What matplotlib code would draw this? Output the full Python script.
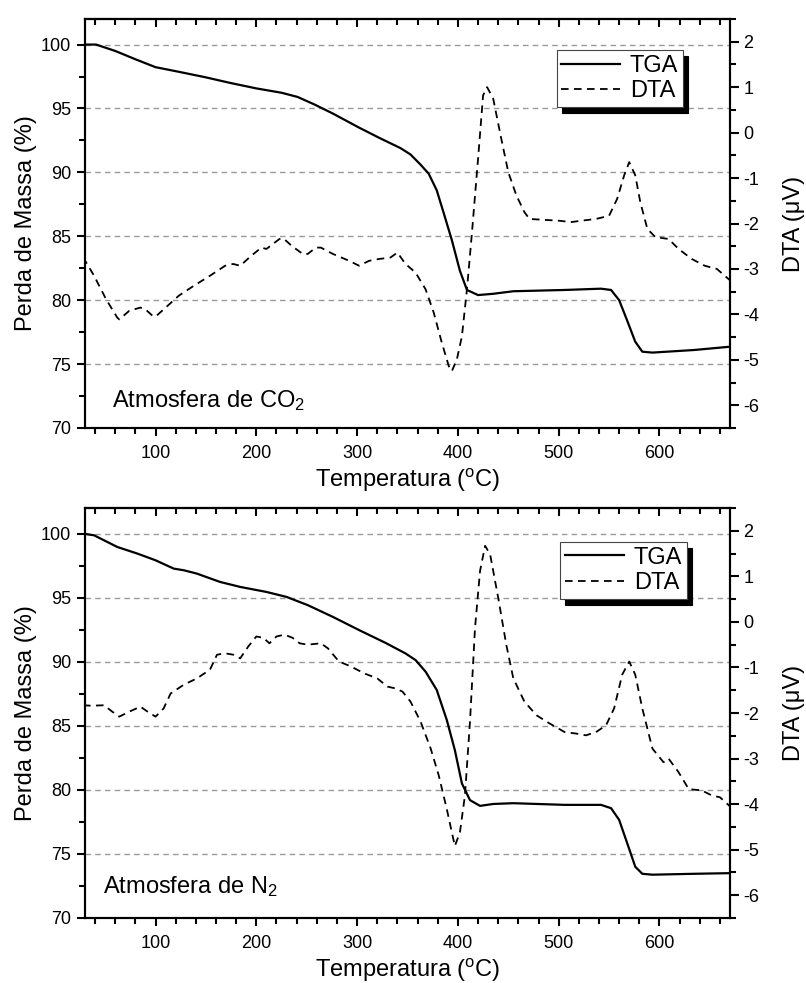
import matplotlib
matplotlib.use("Agg")
import matplotlib.pyplot as plt
from matplotlib.ticker import MultipleLocator

plt.rcParams['font.family'] = ['Liberation Sans', 'DejaVu Sans']
plt.rcParams['mathtext.fontset'] = 'custom'
plt.rcParams['mathtext.rm'] = 'Liberation Sans'
plt.rcParams['mathtext.it'] = 'Liberation Sans:italic'
plt.rcParams['axes.unicode_minus'] = False

# ---------------- data ----------------
# CO2 atmosphere
tga_co2_T = [28, 41, 60, 80, 100, 123, 149, 174, 200, 225, 241, 258, 276, 302, 322, 343,
             353, 363, 371, 379, 386, 394, 402, 409, 420, 435, 455, 506, 542, 552, 560,
             568, 576, 583, 593, 634, 670]
tga_co2 = [100.0, 100.0, 99.5, 98.85, 98.23, 97.87, 97.45, 97.0, 96.57, 96.23, 95.9, 95.3,
           94.6, 93.5, 92.7, 91.9, 91.4, 90.6, 89.9, 88.6, 86.8, 84.7, 82.3, 80.8, 80.4,
           80.5, 80.7, 80.8, 80.9, 80.8, 80.0, 78.4, 76.75, 75.97, 75.9, 76.1, 76.36]

dta_co2_T = [28, 39, 51, 62, 64, 74, 85, 90, 97, 100, 110, 123, 138, 154, 169, 177, 184,
             195, 205, 210, 223, 227, 235, 246, 251, 259, 264, 276, 292, 302, 312, 322,
             333, 340, 348, 358, 368, 376, 384, 391, 394, 399, 404, 409, 414, 420, 425,
             429, 435, 443, 450, 458, 466, 471, 486, 501, 512, 522, 537, 550, 558, 565,
             570, 576, 581, 588, 596, 609, 619, 632, 645, 657, 670]
dta_co2 = [-2.74, -3.15, -3.67, -4.07, -4.11, -3.92, -3.85, -3.89, -4.03, -4.05, -3.85,
           -3.59, -3.37, -3.15, -2.93, -2.89, -2.93, -2.71, -2.53, -2.56, -2.34, -2.33,
           -2.49, -2.67, -2.67, -2.53, -2.53, -2.67, -2.82, -2.93, -2.82, -2.78, -2.75,
           -2.64, -2.89, -3.08, -3.45, -3.96, -4.62, -5.14, -5.25, -4.99, -4.48, -3.45,
           -2.19, -0.58, 0.82, 1.0, 0.75, -0.13, -0.87, -1.38, -1.75, -1.9, -1.92, -1.94,
           -1.97, -1.94, -1.9, -1.83, -1.46, -0.94, -0.65, -0.94, -1.53, -2.12, -2.30,
           -2.34, -2.56, -2.78, -2.93, -3.0, -3.25]

# N2 atmosphere
tga_n2_T = [28, 39, 62, 82, 100, 118, 128, 141, 164, 184, 210, 230, 251, 276, 302, 328,
            348, 358, 368, 379, 389, 397, 404, 412, 422, 435, 455, 506, 542, 552, 560,
            568, 576, 583, 593, 634, 670]
tga_n2 = [100.0, 99.87, 98.96, 98.44, 97.92, 97.27, 97.14, 96.88, 96.23, 95.84, 95.45,
          95.06, 94.42, 93.5, 92.47, 91.48, 90.65, 90.13, 89.22, 87.8, 85.45, 83.1, 80.5,
          79.2, 78.75, 78.9, 78.96, 78.83, 78.83, 78.57, 77.66, 75.84, 74.0, 73.45, 73.38,
          73.45, 73.5]

dta_n2_T = [28, 36, 49, 57, 64, 74, 85, 92, 100, 108, 115, 128, 141, 154, 161, 169, 177,
            184, 192, 200, 207, 213, 220, 228, 236, 243, 251, 264, 271, 282, 294, 307,
            320, 330, 338, 345, 353, 363, 373, 381, 389, 394, 397, 402, 407, 412, 417,
            422, 427, 432, 440, 448, 455, 466, 478, 491, 506, 517, 527, 537, 547, 555,
            563, 570, 576, 583, 593, 604, 609, 619, 629, 642, 652, 660, 670]
dta_n2 = [-1.83, -1.84, -1.83, -1.97, -2.08, -1.97, -1.86, -1.97, -2.08, -1.9, -1.57,
          -1.38, -1.24, -1.05, -0.72, -0.69, -0.72, -0.8, -0.54, -0.32, -0.35, -0.47,
          -0.32, -0.28, -0.35, -0.47, -0.5, -0.47, -0.58, -0.87, -0.98, -1.13, -1.24,
          -1.42, -1.46, -1.53, -1.75, -2.19, -2.78, -3.37, -4.11, -4.62, -4.92, -4.62,
          -3.81, -2.19, -0.13, 1.12, 1.67, 1.48, 0.53, -0.5, -1.24, -1.75, -2.05, -2.23,
          -2.42, -2.45, -2.49, -2.42, -2.27, -1.9, -1.16, -0.87, -1.16, -1.9, -2.78,
          -3.08, -3.0, -3.30, -3.67, -3.70, -3.81, -3.85, -4.05]

panels = [
    ("Atmosfera de CO$_\\mathregular{2}$", tga_co2_T, tga_co2, dta_co2_T, dta_co2),
    ("Atmosfera de N$_\\mathregular{2}$", tga_n2_T, tga_n2, dta_n2_T, dta_n2),
]

# ---------------- layout ----------------
W, H = 806, 983
fig = plt.figure(figsize=(W / 100, H / 100), dpi=100)

rects = [(85, 19, 730, 428), (85, 508, 730, 918)]
legend_anchor = [(0.927, 0.924), (0.933, 0.917)]
text_pos = [(0.042, 0.051), (0.028, 0.060)]

lw_spine = 1.5
for i, (title, tT, tV, dT, dV) in enumerate(panels):
    x0, y0, x1, y1 = rects[i]
    h = y1 - y0
    ax = fig.add_axes([x0 / W, 1 - y1 / H, (x1 - x0) / W, h / H])
    ax2 = ax.twinx()

    l1, = ax.plot(tT, tV, color='black', lw=1.6, solid_joinstyle='round', label='TGA')
    l2, = ax2.plot(dT, dV, color='black', lw=1.3, linestyle=(0, (4.2, 3.0)), label='DTA')

    ax.set_xlim(30, 670)
    ax.set_ylim(70, 102)
    ax2.set_ylim(-6.5, 2.5)

    ax.xaxis.set_major_locator(MultipleLocator(100))
    ax.xaxis.set_minor_locator(MultipleLocator(20))
    ax.yaxis.set_major_locator(MultipleLocator(5))
    ax.yaxis.set_minor_locator(MultipleLocator(2.5))
    ax2.yaxis.set_major_locator(MultipleLocator(1))
    ax2.yaxis.set_minor_locator(MultipleLocator(0.5))

    ax.set_axisbelow(True)
    ax.yaxis.grid(True, which='major', linestyle=(0, (4, 3)), color='#9a9a9a', lw=1.0)

    for a in (ax, ax2):
        for s in a.spines.values():
            s.set_linewidth(lw_spine)

    ax.tick_params(axis='x', which='both', direction='out', top=False, bottom=True,
                   width=1.5, labelsize=13, pad=6)
    ax.tick_params(axis='x', which='major', length=6)
    ax.tick_params(axis='x', which='minor', length=4.5)
    ax.tick_params(axis='y', which='both', direction='out', left=True, right=False,
                   width=1.5, labelsize=13, pad=4)
    ax.tick_params(axis='y', which='major', length=6)
    ax.tick_params(axis='y', which='minor', length=4.5)
    ax2.tick_params(axis='y', which='both', direction='out', right=True, left=False,
                    width=1.5, labelsize=13, pad=3)
    ax2.tick_params(axis='y', which='major', length=6.5)
    ax2.tick_params(axis='y', which='minor', length=4.5)

    sec = ax.secondary_xaxis('top')
    sec.xaxis.set_major_locator(MultipleLocator(100))
    sec.xaxis.set_minor_locator(MultipleLocator(20))
    sec.tick_params(axis='x', which='both', direction='in', width=1.5, labeltop=False)
    sec.tick_params(axis='x', which='major', length=5.5)
    sec.tick_params(axis='x', which='minor', length=4.5)
    sec.spines['top'].set_linewidth(lw_spine)

    ax.set_xlabel("Temperatura ($^\\mathregular{o}$C)", fontsize=17)
    ax.xaxis.set_label_coords(0.5, -59.0 / h)
    ax.xaxis.label.set_verticalalignment('baseline')

    ax.set_ylabel("Perda de Massa (%)", fontsize=17)
    ax.yaxis.set_label_coords((32 - x0) / (x1 - x0), 0.5)
    ax.yaxis.label.set_verticalalignment('baseline')

    ax2.set_ylabel("DTA (\u03bcV)", fontsize=17, rotation=90)
    ax2.yaxis.set_label_coords((800 - x0) / (x1 - x0), 0.5)
    ax2.yaxis.label.set_verticalalignment('baseline')

    ax.text(text_pos[i][0], text_pos[i][1], title, transform=ax.transAxes,
            fontsize=17, ha='left', va='baseline')

    leg = ax2.legend([l1, l2], ['TGA', 'DTA'], loc='upper right',
                     bbox_to_anchor=legend_anchor[i], bbox_transform=ax.transAxes,
                     fontsize=17, frameon=True, fancybox=False,
                     shadow={'ox': 3.6, 'oy': -4.2, 'color': 'black', 'alpha': 1.0},
                     borderpad=0.2, labelspacing=0.15, handlelength=2.5,
                     handletextpad=0.4, borderaxespad=0.0)
    leg.get_frame().set_edgecolor('#444444')
    leg.get_frame().set_linewidth(0.8)
    leg.get_frame().set_alpha(1.0)

fig.savefig("out.png", dpi=100)
